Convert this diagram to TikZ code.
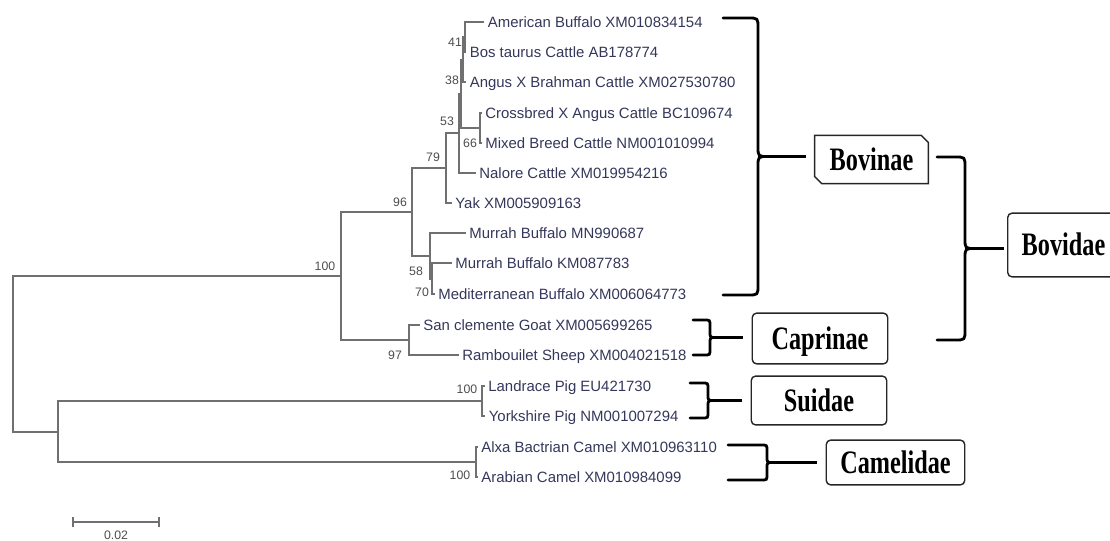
\documentclass[tikz,border=0pt]{standalone}
\usepackage{fontspec}
\setmainfont{Liberation Serif}
\setsansfont{Liberation Sans}
\usetikzlibrary{arrows.meta, calc}
\definecolor{treegray}{HTML}{707070}
\definecolor{leafink}{HTML}{34375A}
\definecolor{bootgray}{HTML}{4D4D4D}
\tikzset{
	branch/.style={draw=treegray, line width=1.1pt},
	leaf/.style={anchor=west, inner sep=2pt, text=leafink, text height=6pt, text depth=0pt,
		font=\fontsize{8.5}{10}\selectfont\sffamily},
	boot/.style={inner sep=0pt, text=bootgray, font=\fontsize{7}{8}\selectfont\sffamily},
	bracearc/.style={draw=black, line width=1.6pt, line cap=round},
	linkline/.style={draw=black, line width=1.6pt, shorten >=5pt},
	taxbox/.style={draw=black!85, line width=0.8pt, rounded corners=2.5pt, inner sep=0pt,
		text height=12.3pt, text depth=0pt, font=\fontsize{13.8}{16}\selectfont\bfseries}
}
% curly brace: tip name, arm x, spine x, top y, bottom y
\newcommand{\cladebrace}[5]{%
	\pgfmathsetmacro\bmid{(#4+#5)/2}
	\pgfmathsetmacro\brad{min(10,(#5-#4)/6)}
	\draw[bracearc] (#2,#4) -- ({#3-\brad},#4) .. controls (#3,#4) .. (#3,{#4+\brad})
		-- (#3,{\bmid-\brad}) .. controls (#3,\bmid) .. ({#3+\brad},\bmid)
		.. controls (#3,\bmid) .. (#3,{\bmid+\brad})
		-- (#3,{#5-\brad}) .. controls (#3,#5) .. ({#3-\brad},#5) -- (#2,#5);
	\coordinate (#1) at ({#3+\brad},\bmid);
}

\begin{document}
\begin{tikzpicture}[x=0.02cm, y=-0.02cm]
	\useasboundingbox (0,0) rectangle (1110,541);
	% inner nodes of the tree
	\coordinate (root) at (13,354);
	\coordinate (n100) at (341,276);
	\coordinate (n96) at (412,212);
	\coordinate (n79) at (446,168);
	\coordinate (n53) at (459,133);
	\coordinate (ncat) at (461,94);
	\coordinate (n38) at (463,60);
	\coordinate (n41) at (465,37);
	\coordinate (n66) at (480,128);
	\coordinate (n58) at (430,256);
	\coordinate (n70) at (432,279);
	\coordinate (n97) at (409,340);
	\coordinate (nout) at (58,432);
	\coordinate (npig) at (482,401);
	\coordinate (ncam) at (476,462);

	% leaves
	\node[leaf] (amb) at (484,22) {American Buffalo XM010834154};
	\node[leaf] (bos) at (466,52) {Bos taurus Cattle AB178774};
	\node[leaf] (ang) at (466,82) {Angus X Brahman Cattle XM027530780};
	\node[leaf] (crb) at (481.5,113) {Crossbred X Angus Cattle BC109674};
	\node[leaf] (mix) at (481.5,143) {Mixed Breed Cattle NM001010994};
	\node[leaf] (nal) at (475.5,173) {Nalore Cattle XM019954216};
	\node[leaf] (yak) at (451.5,203) {Yak XM005909163};
	\node[leaf] (mmn) at (465.5,233) {Murrah Buffalo MN990687};
	\node[leaf] (mkm) at (451.5,263) {Murrah Buffalo KM087783};
	\node[leaf] (med) at (434.5,294) {Mediterranean Buffalo XM006064773};
	\node[leaf] (goat) at (419.5,325) {San clemente Goat XM005699265};
	\node[leaf] (sheep) at (458.5,355) {Rambouilet Sheep XM004021518};
	\node[leaf] (lan) at (484.5,386) {Landrace Pig EU421730};
	\node[leaf] (york) at (485,416) {Yorkshire Pig NM001007294};
	\node[leaf] (alxa) at (477.5,447) {Alxa Bactrian Camel XM010963110};
	\node[leaf] (arab) at (477.5,477) {Arabian Camel XM010984099};

	% branches
	\draw[branch] (root) |- (n100) (root) |- (nout);
	\draw[branch] (n100) |- (n96) (n100) |- (n97);
	\draw[branch] (n96) |- (n79) (n96) |- (n58);
	\draw[branch] (n79) |- (n53) (n79) |- (yak.west);
	\draw[branch] (n53) |- (ncat) (n53) |- (nal.west);
	\draw[branch] (ncat) |- (n38) (ncat) |- (n66);
	\draw[branch] (n38) |- (n41) (n38) |- (ang.west);
	\draw[branch] (n41) |- (amb.west) (n41) |- (bos.west);
	\draw[branch] (n66) |- (crb.west) (n66) |- (mix.west);
	\draw[branch] (n58) |- (mmn.west) (n58) |- (n70);
	\draw[branch] (n70) |- (mkm.west) (n70) |- (med.west);
	\draw[branch] (n97) |- (goat.west) (n97) |- (sheep.west);
	\draw[branch] (nout) |- (npig) (nout) |- (ncam);
	\draw[branch] (npig) |- (lan.west) (npig) |- (york.west);
	\draw[branch] (ncam) |- (alxa.west) (ncam) |- (arab.west);

	% bootstrap values
	\node[boot] (b41) at (455,42) {41};
	\node[boot] (b38) at (452,80) {38};
	\node[boot] (b53) at (447,121) {53};
	\node[boot] (b66) at (470,143) {66};
	\node[boot] (b79) at (433,157) {79};
	\node[boot] (b96) at (400,202) {96};
	\node[boot] (b58) at (416,271) {58};
	\node[boot] (b70) at (422,292) {70};
	\node[boot] (b100) at (325,266) {100};
	\node[boot] (b97) at (395,355) {97};
	\node[boot] (bpig) at (467,389) {100};
	\node[boot] (bcam) at (460,475) {100};

	% scale bar
	\coordinate (sa) at (72,522);
	\coordinate (sb) at (160,522);
	\draw[branch, {Bar[width=5.5pt]}-{Bar[width=5.5pt]}] (sa) -- (sb);
	\node[boot] (scale) at (116,535) {0.02};

	% clade boxes
	\node[taxbox, draw=none, minimum width=64pt, minimum height=26.6pt] (bovinae) at (871.5,159.5)
		{\scalebox{1}[1.35]{Bovinae}};
	\draw[draw=black!85, line width=0.8pt] (bovinae.north west) -- ([xshift=-4pt]bovinae.north east)
		-- ([yshift=-4pt]bovinae.north east) -- (bovinae.south east)
		-- ([xshift=4pt]bovinae.south west) -- ([yshift=4pt]bovinae.south west) -- cycle;
	\node[taxbox, minimum width=63.5pt, minimum height=36.3pt] (bovidae) at (1063.5,245)
		{\scalebox{1}[1.35]{Bovidae}};
	\node[taxbox, minimum width=77.1pt, minimum height=28.9pt] (caprinae) at (820,338.5)
		{\scalebox{1}[1.35]{Caprinae}};
	\node[taxbox, minimum width=77.1pt, minimum height=27.8pt] (suidae) at (819,400.5)
		{\scalebox{1}[1.35]{Suidae}};
	\node[taxbox, minimum width=78.8pt, minimum height=25.5pt] (camelidae) at (895.5,462.5)
		{\scalebox{1}[1.35]{Camelidae}};

	% braces
	\cladebrace{bovtip}{723}{758}{18}{295}
	\cladebrace{bdtip}{937}{965}{157}{340}
	\cladebrace{captip}{693}{710}{320}{355}
	\cladebrace{suitip}{690}{708}{383}{418}
	\cladebrace{camtip}{728}{767}{445}{480}
	\draw[linkline] (bovtip) -- (bovtip -| bovinae.west);
	\draw[linkline, shorten >=2pt] (bdtip) -- (bdtip -| bovidae.west);
	\draw[linkline] (captip) -- (captip -| caprinae.west);
	\draw[linkline] (suitip) -- (suitip -| suidae.west);
	\draw[linkline] (camtip) -- (camtip -| camelidae.west);
\end{tikzpicture}
\end{document}
